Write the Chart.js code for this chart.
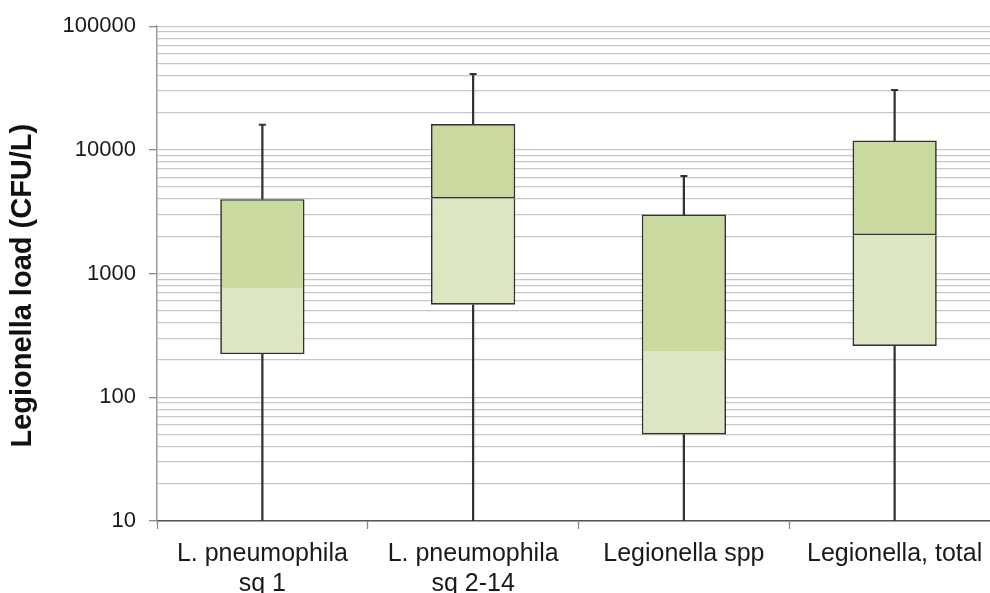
<!DOCTYPE html>
<html>
<head>
<meta charset="utf-8">
<script src="https://cdn.jsdelivr.net/npm/chart.js@4.4.1/dist/chart.umd.min.js"></script>
<style>
  html, body { margin: 0; padding: 0; background: #fff; overflow: hidden; }
  #wrap { position: relative; width: 1006px; height: 593px; }
</style>
</head>
<body>
<div id="wrap"><canvas id="boxChart"></canvas></div>
<script>
// ---------------------------------------------------------------------------
// Data (CFU/L)
// ---------------------------------------------------------------------------

const categories = [
  ['L. pneumophila', 'sq 1'],
  ['L. pneumophila', 'sq 2-14'],
  'Legionella spp',
  'Legionella, total'
];

const minValues    = [1,     1,     1,    1];      // below axis floor, clipped
const q1Values     = [223,   560,   50,   260];
const medianValues = [765,   4050,  237,  2040];
const q3Values     = [4000,  16200, 3000, 11900];
const maxValues    = [16000, 41000, 6150, 30500];

const yTickLabels  = [10, 100, 1000, 10000, 100000];
const yMinorSteps  = [2, 3, 4, 5, 6, 7, 8, 9];

// ---------------------------------------------------------------------------
// Helpers
// ---------------------------------------------------------------------------

function gridValues() {
  const vals = [];
  yTickLabels.forEach(function (d, i) {
    vals.push(d);
    if (i < yTickLabels.length - 1) {
      yMinorSteps.forEach(function (s) { vals.push(d * s); });
    }
  });
  return vals;
}

function pairs(lo, hi) {
  return lo.map(function (v, i) { return [v, hi[i]]; });
}

const FONT = "'Liberation Sans', Arial, sans-serif";
const INK = '#333333';

// ---------------------------------------------------------------------------
// Chart
// ---------------------------------------------------------------------------

new Chart(document.getElementById('boxChart').getContext('2d'), {
  data: {
    labels: categories,
    datasets: [
      {
        type: 'bar',
        label: 'Lower whisker',
        data: pairs(minValues, q1Values),
        backgroundColor: INK,
        barThickness: 1.6,
        grouped: false,
        order: 3
      },
      {
        type: 'bar',
        label: 'Upper whisker',
        data: pairs(q3Values, maxValues),
        backgroundColor: INK,
        barThickness: 1.6,
        grouped: false,
        order: 3
      },
      {
        type: 'bar',
        label: 'Q1 - median',
        data: pairs(q1Values, medianValues),
        backgroundColor: '#dce6c3',
        borderColor: INK,
        borderWidth: 1.7,
        borderSkipped: 'top',
        grouped: false,
        categoryPercentage: 0.8,
        barPercentage: 0.5,
        order: 2
      },
      {
        type: 'bar',
        label: 'Median - Q3',
        data: pairs(medianValues, q3Values),
        backgroundColor: '#c9d9a0',
        borderColor: INK,
        borderWidth: 1.7,
        borderSkipped: ['bottom', false, 'bottom', false],
        grouped: false,
        categoryPercentage: 0.8,
        barPercentage: 0.5,
        order: 1
      },
      {
        type: 'line',
        label: 'Max cap',
        data: maxValues,
        showLine: false,
        pointStyle: 'line',
        pointRadius: 3.5,
        pointBorderWidth: 2,
        pointBorderColor: INK,
        order: 0
      }
    ]
  },
  options: {
    responsive: true,
    maintainAspectRatio: false,
    animation: false,
    events: [],
    layout: { padding: { top: 24, right: 0, bottom: 0, left: 0 } },
    plugins: { legend: { display: false }, tooltip: { enabled: false } },
    scales: {
      x: {
        type: 'category',
        grid: {
          offset: true,
          drawOnChartArea: false,
          drawTicks: true,
          tickLength: 8,
          tickColor: '#8a8a8a',
          tickWidth: 1.3
        },
        border: { color: '#555', width: 1.5 },
        ticks: {
          color: '#1a1a1a',
          padding: 10,
          maxRotation: 0,
          autoSkip: false,
          font: { family: FONT, size: 25, lineHeight: 1.2 }
        },
        afterFit: function (scale) { scale.height = 72; }
      },
      y: {
        type: 'logarithmic',
        min: 10,
        max: 100000,
        afterBuildTicks: function (scale) {
          scale.ticks = gridValues().map(function (v) {
            return { value: v, major: yTickLabels.indexOf(v) >= 0 };
          });
        },
        grid: {
          color: '#c6c6c6',
          lineWidth: 1.3,
          tickLength: 8,
          tickWidth: 1.3,
          tickColor: function (c) {
            return c.tick && yTickLabels.indexOf(c.tick.value) >= 0 ? '#8a8a8a' : 'rgba(0,0,0,0)';
          }
        },
        border: { color: '#9a9a9a', width: 1.5 },
        ticks: {
          autoSkip: false,
          color: '#1a1a1a',
          padding: 13,
          font: { family: FONT, size: 22 },
          callback: function (v) {
            return yTickLabels.indexOf(v) >= 0 ? String(v) : '';
          }
        },
        title: {
          display: true,
          text: 'Legionella load (CFU/L)\u00a0\u00a0\u00a0',
          color: '#111',
          padding: { top: 6, bottom: 0 },
          font: { family: FONT, size: 29, weight: 'bold', lineHeight: 1.2 }
        },
        afterFit: function (scale) { scale.width = 157; }
      }
    }
  }
});
</script>
</body>
</html>
